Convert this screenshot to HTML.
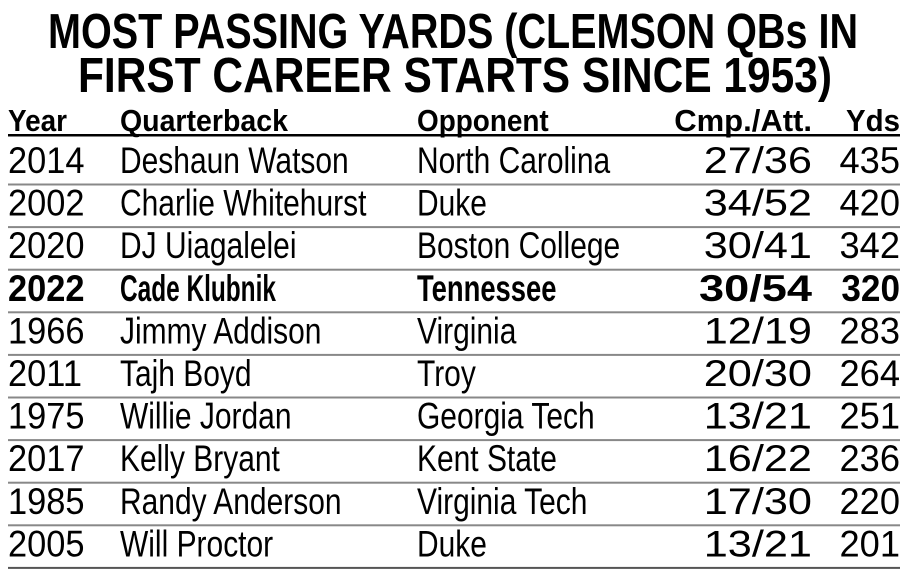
<!DOCTYPE html>
<html><head><meta charset="utf-8"><style>
html,body{margin:0;padding:0;background:#fff;}
svg{display:block;font-family:"Liberation Sans",sans-serif;}
</style></head><body>
<svg id="chart" width="914" height="582" viewBox="0 0 914 582">
<text x="48" y="48" font-size="49" font-weight="bold" textLength="810" lengthAdjust="spacingAndGlyphs">MOST PASSING YARDS (CLEMSON QBs IN</text>
<text x="78" y="92" font-size="49" font-weight="bold" textLength="754" lengthAdjust="spacingAndGlyphs">FIRST CAREER STARTS SINCE 1953)</text>
<g id="rows"></g>
</svg>
<script>
const years=["2014","2002","2020","2022","1966","2011","1975","2017","1985","2005"];
const qbs=["Deshaun Watson","Charlie Whitehurst","DJ Uiagalelei","Cade Klubnik","Jimmy Addison","Tajh Boyd","Willie Jordan","Kelly Bryant","Randy Anderson","Will Proctor"];
const opponents=["North Carolina","Duke","Boston College","Tennessee","Virginia","Troy","Georgia Tech","Kent State","Virginia Tech","Duke"];
const cmpAtt=["27/36","34/52","30/41","30/54","12/19","20/30","13/21","16/22","17/30","13/21"];
const yds=[435,420,342,320,283,264,251,236,220,201];
const headers=["Year","Quarterback","Opponent","Cmp./Att.","Yds"];
const highlight="2022";

const NS="http://www.w3.org/2000/svg";
const g=document.getElementById('rows');
const colX=[8,120,417,812,900];
const anchors=["start","start","start","end","end"];
const regScale=[0.93,0.81,0.81,1.17,0.98];
const boldScale=[0.93,0.66,0.74,1.22,0.95];
function txt(str,x,y,size,bold,sx,anchor,name){
  const grp=document.createElementNS(NS,'g');
  grp.setAttribute('transform',`translate(${x},${y}) scale(${sx},1)`);
  const t=document.createElementNS(NS,'text');
  
  
  t.setAttribute('font-size',size);
  if(bold)t.setAttribute('font-weight','bold');
  t.setAttribute('text-anchor',anchor);
  t.textContent=str;
  grp.appendChild(t);g.appendChild(grp);
}
function line(y,w,c,name){
  const l=document.createElementNS(NS,'rect');
  
  
  l.setAttribute('x',8);l.setAttribute('y',y);l.setAttribute('width',892);l.setAttribute('height',w);l.setAttribute('fill',c);
  g.appendChild(l);
}
const headScale=[0.9,0.92,0.9,1.0,0.95];
headers.forEach((h,i)=>txt(h,colX[i],131,31,true,headScale[i],anchors[i],'column-header'));
line(134,2.5,'#000','header-rule');
const pitch=42.6;
for(let r=0;r<years.length;r++){
  const y=173+r*pitch;
  const b=years[r]===highlight;
  const vals=[years[r],qbs[r],opponents[r],cmpAtt[r],String(yds[r])];
  vals.forEach((v,i)=>txt(v,colX[i],y,37,b,b?boldScale[i]:regScale[i],anchors[i],'table-cell'));
  line(183.5+r*pitch,2,r===years.length-1?'#555':'#888','row-divider');
}
</script>
</body></html>
